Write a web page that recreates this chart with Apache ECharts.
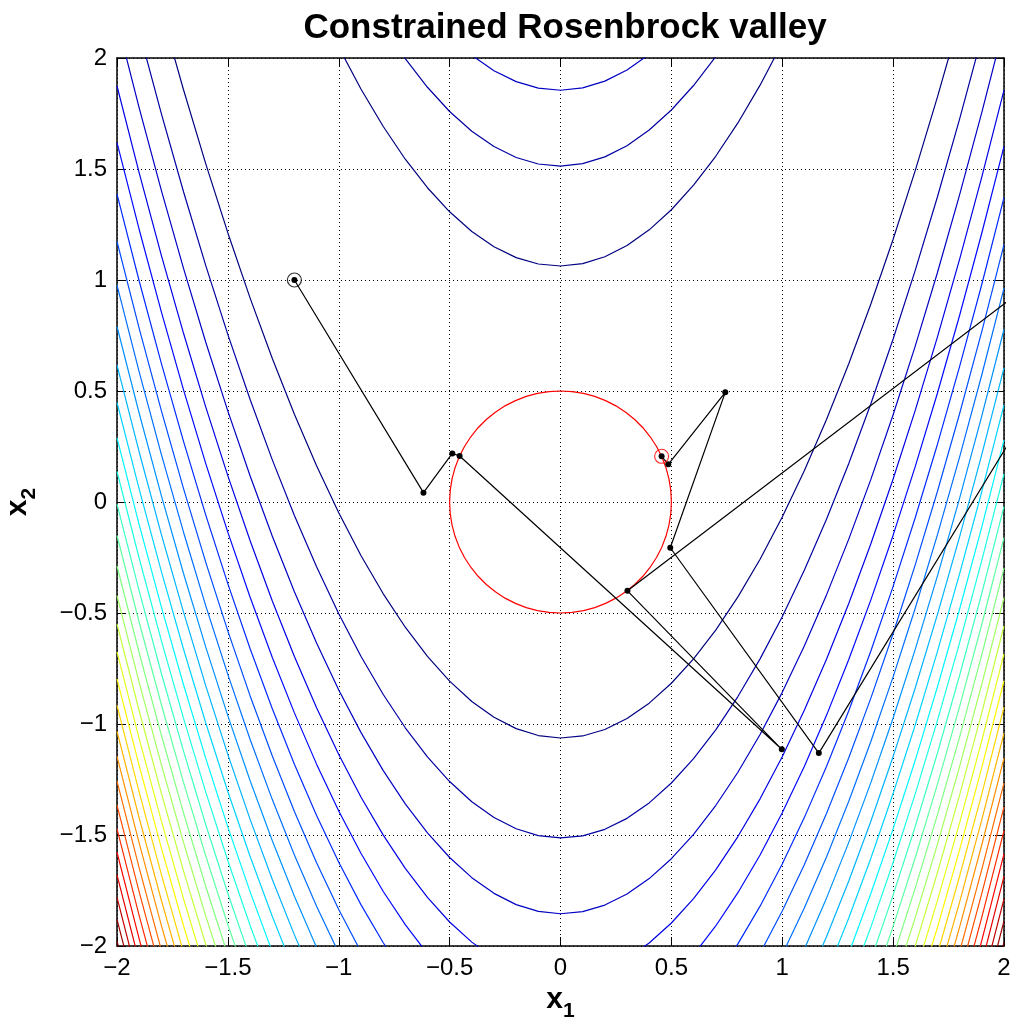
<!DOCTYPE html>
<html>
<head>
<meta charset="utf-8">
<title>Constrained Rosenbrock valley</title>
<script src="https://cdn.jsdelivr.net/npm/echarts@6/dist/echarts.min.js"></script>
<style>
  html, body { margin: 0; padding: 0; background: #fff; }
  #chart { width: 1012px; height: 1025px; }
</style>
</head>
<body>
<div id="chart"></div>
<script>
// contour levels of f(x1,x2) = 100*(x2 - x1^2)^2 + (1 - x1)^2
var levels = [114, 230, 345, 461, 576, 692, 808, 923, 1039, 1154, 1270, 1386, 1501, 1617, 1732, 1848,
  1964, 2079, 2195, 2310, 2426, 2542, 2657, 2773, 2888, 3004, 3120, 3235, 3351, 3466, 3582];

// solver iterates, first = start point, last = solution
var pathX1 = [-1.2, -0.618, -0.488, -0.455, 0.998, 0.302, 2.76, 1.165, 0.495, 0.743, 0.486, 0.456];
var pathX2 = [1.0, 0.042, 0.219, 0.207, -1.114, -0.4, 1.47, -1.131, -0.206, 0.494, 0.170, 0.206];

// constraint x1^2 + x2^2 <= r^2
var constraintRadius = 0.5;

var fontFamily = "'Liberation Sans', Arial, Helvetica, sans-serif";

// matlab jet
function jet(t) {
  function c(v) { return Math.round(255 * Math.max(0, Math.min(1, v))); }
  var r = Math.min(4 * t - 1.5, -4 * t + 4.5);
  var g = Math.min(4 * t - 0.5, -4 * t + 3.5);
  var b = Math.min(4 * t + 0.5, -4 * t + 2.5);
  return 'rgb(' + c(r) + ',' + c(g) + ',' + c(b) + ')';
}

// the level set of the rosenbrock function splits in two branches over x1 (upper / lower valley wall)
function branch(level, sign) {
  var pts = [];
  for (var i = 0; i <= 40; i++) {
    var x = -2 + i * 0.1;
    var d = Math.sqrt((level - (1 - x) * (1 - x)) / 100);
    pts.push([x, x * x + sign * d]);
  }
  return pts;
}

var series = [];
levels.forEach(function (lv, k) {
  var col = jet(k / (levels.length - 1));
  [1, -1].forEach(function (s) {
    series.push({
      type: 'line',
      data: branch(lv, s),
      symbol: 'none',
      silent: true,
      z: 2,
      lineStyle: { color: col, width: 1.2 }
    });
  });
});

var circle = [];
for (var i = 0; i <= 60; i++) {
  var a = i / 60 * 2 * Math.PI;
  circle.push([constraintRadius * Math.cos(a), constraintRadius * Math.sin(a)]);
}
series.push({
  type: 'line',
  data: circle,
  symbol: 'none',
  silent: true,
  z: 3,
  lineStyle: { color: '#ff0000', width: 1.2 }
});

var path = pathX1.map(function (x, i) { return [x, pathX2[i]]; });
series.push({
  type: 'line',
  data: path,
  symbol: 'circle',
  symbolSize: 6,
  showAllSymbol: true,
  z: 4,
  itemStyle: { color: '#000' },
  lineStyle: { color: '#000', width: 1.2 }
});
series.push({
  type: 'scatter',
  data: [path[0]],
  symbol: 'circle',
  symbolSize: 14,
  z: 5,
  itemStyle: { color: 'rgba(0,0,0,0)', borderColor: '#000', borderWidth: 1.2 }
});
series.push({
  type: 'scatter',
  data: [path[path.length - 1]],
  symbol: 'circle',
  symbolSize: 14,
  z: 5,
  itemStyle: { color: 'rgba(0,0,0,0)', borderColor: '#ff0000', borderWidth: 1.2 }
});

function fmt(v) {
  return (v < 0 ? '\u2212' : '') + Math.abs(v);
}

function axis(pos, main, sub) {
  var o = {
    type: 'value',
    position: pos,
    min: -2,
    max: 2,
    interval: 0.5,
    axisLine: { onZero: false, lineStyle: { color: '#000', width: 1.5 } },
    axisTick: { inside: true, length: 9, lineStyle: { color: '#000' } },
    axisLabel: {
      show: main,
      formatter: fmt,
      color: '#000',
      fontSize: 24,
      fontFamily: fontFamily,
      margin: 10
    },
    splitLine: {
      show: main,
      lineStyle: { color: '#000', type: [1, 3], width: 1 }
    }
  };
  if (main) {
    o.name = '{a|x}{b|' + sub + '}';
    o.nameLocation = 'middle';
    o.nameTextStyle = {
      rich: {
        a: { fontSize: 30, fontWeight: 'bold', fontFamily: fontFamily, color: '#000', verticalAlign: 'top', lineHeight: 30 },
        b: { fontSize: 21, fontWeight: 'bold', fontFamily: fontFamily, color: '#000', verticalAlign: 'top', lineHeight: 21, padding: [16, 0, 0, 0] }
      }
    };
  }
  return o;
}

var xMain = axis('bottom', true, '1');
xMain.nameGap = 32;
var yMain = axis('left', true, '2');
yMain.nameGap = 84;
yMain.nameRotate = 90;

var option = {
  backgroundColor: '#fff',
  animation: false,
  title: {
    text: 'Constrained Rosenbrock valley',
    left: 560,
    textAlign: 'center',
    top: 6,
    textStyle: { fontSize: 35, fontWeight: 'bold', color: '#000', fontFamily: fontFamily }
  },
  grid: { left: 117, right: 8, top: 58, bottom: 79, containLabel: false, outerBoundsMode: 'none' },
  xAxis: [xMain, axis('top', false)],
  yAxis: [yMain, axis('right', false)],
  series: series
};

var chart = echarts.init(document.getElementById('chart'));
chart.setOption(option);
</script>
</body>
</html>
